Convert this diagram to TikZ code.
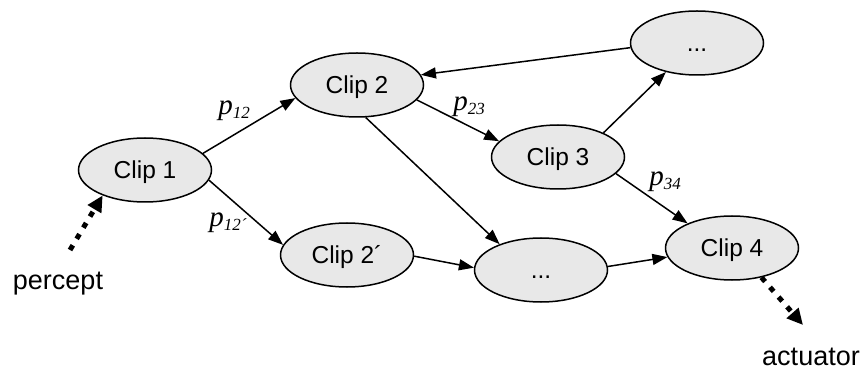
\documentclass[tikz,border=0pt]{standalone}
\usepackage{fontspec}
\setmainfont{Liberation Sans}
\newfontfamily\tnr{Liberation Serif}
\usetikzlibrary{arrows.meta,shapes.geometric}
\newcommand\plab[1]{{\tnr\itshape\fontsize{29}{29}\selectfont p}\raisebox{-4pt}{\tnr\itshape\fontsize{17}{17}\selectfont #1}}
\begin{document}
\begin{tikzpicture}[x=1pt,y=-1pt,
  clip/.style={ellipse,draw,line width=1.5pt,fill=black!9,minimum width=133pt,minimum height=64pt,inner sep=0pt,
    font=\fontsize{24.5}{24.5}\selectfont,text height=17.5pt,text depth=0pt},
  conn/.style={line width=1.5pt,-{Triangle[length=15pt,width=11pt]}},
  dotarrow/.style={line width=5pt,dash pattern=on 5.5pt off 7.5pt,-{Triangle[length=16pt,width=15pt]}},
  lab/.style={inner sep=0pt},
  io/.style={inner sep=0pt,font=\fontsize{27}{27}\selectfont}]
\useasboundingbox (0,0) rectangle (864,371);
\node[clip] (c1) at (145,170) {Clip 1};
\node[clip] (c2) at (357,85) {Clip 2};
\node[clip] (c2p) at (347,255) {Clip 2´};
\node[clip] (c3) at (558,157) {Clip 3};
\node[clip] (d1) at (697,43) {...};
\node[clip] (d2) at (541,270) {...};
\node[clip] (c4) at (732,248) {Clip 4};
\node[lab] (l12) at (234,111) {\plab{12}};
\node[lab] (l12p) at (228,223) {\plab{12´}};
\node[lab] (l23) at (469,107) {\plab{23}};
\node[lab] (l34) at (665,182) {\plab{34}};
\node[io] (percept) at (58,284) {percept};
\node[io] (actuator) at (811,357) {actuator};
\coordinate (pst) at (70,250);
\coordinate (aend) at (803,325);
\draw[conn] (c1.16) -- (c2.192);
\draw[conn] (c1.-9) -- (c2p.171);
\draw[conn] (c2.-14) -- (c3.165);
\draw[conn] (c2.-75) -- (d2.148);
\draw[conn] (c2p.-1) -- (d2.178);
\draw[conn] (d1.184) -- (c2.9);
\draw[conn] (c3.28) -- (d1.223);
\draw[conn] (c3.-16) -- (c4.151);
\draw[conn] (d2.3) -- (c4.188);
\draw[dotarrow] (pst) -- (c1.211);
\draw[dotarrow] (c4.-45) -- (aend);
\end{tikzpicture}
\end{document}
